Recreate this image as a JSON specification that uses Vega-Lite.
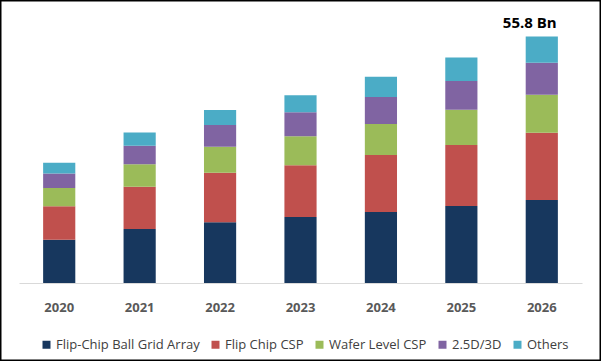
{
  "$schema": "https://vega.github.io/schema/vega-lite/v6.json",
  "width": 601,
  "height": 361,
  "autosize": "none",
  "padding": 0,
  "background": "white",
  "view": {"stroke": "black", "strokeWidth": 3, "fill": "white"},
  "datasets": {
    "market": [
      {"year": "2020", "segment": "Flip-Chip Ball Grid Array", "rank": 1, "value": 9.8},
      {"year": "2020", "segment": "Flip Chip CSP", "rank": 2, "value": 7.6},
      {"year": "2020", "segment": "Wafer Level CSP", "rank": 3, "value": 4.1},
      {"year": "2020", "segment": "2.5D/3D", "rank": 4, "value": 3.3},
      {"year": "2020", "segment": "Others", "rank": 5, "value": 2.4},
      {"year": "2021", "segment": "Flip-Chip Ball Grid Array", "rank": 1, "value": 12.2},
      {"year": "2021", "segment": "Flip Chip CSP", "rank": 2, "value": 9.6},
      {"year": "2021", "segment": "Wafer Level CSP", "rank": 3, "value": 5.1},
      {"year": "2021", "segment": "2.5D/3D", "rank": 4, "value": 4.2},
      {"year": "2021", "segment": "Others", "rank": 5, "value": 2.95},
      {"year": "2022", "segment": "Flip-Chip Ball Grid Array", "rank": 1, "value": 13.75},
      {"year": "2022", "segment": "Flip Chip CSP", "rank": 2, "value": 11.2},
      {"year": "2022", "segment": "Wafer Level CSP", "rank": 3, "value": 5.9},
      {"year": "2022", "segment": "2.5D/3D", "rank": 4, "value": 4.9},
      {"year": "2022", "segment": "Others", "rank": 5, "value": 3.4},
      {"year": "2023", "segment": "Flip-Chip Ball Grid Array", "rank": 1, "value": 14.95},
      {"year": "2023", "segment": "Flip Chip CSP", "rank": 2, "value": 11.7},
      {"year": "2023", "segment": "Wafer Level CSP", "rank": 3, "value": 6.6},
      {"year": "2023", "segment": "2.5D/3D", "rank": 4, "value": 5.4},
      {"year": "2023", "segment": "Others", "rank": 5, "value": 3.85},
      {"year": "2024", "segment": "Flip-Chip Ball Grid Array", "rank": 1, "value": 16.1},
      {"year": "2024", "segment": "Flip Chip CSP", "rank": 2, "value": 12.9},
      {"year": "2024", "segment": "Wafer Level CSP", "rank": 3, "value": 7.0},
      {"year": "2024", "segment": "2.5D/3D", "rank": 4, "value": 6.1},
      {"year": "2024", "segment": "Others", "rank": 5, "value": 4.6},
      {"year": "2025", "segment": "Flip-Chip Ball Grid Array", "rank": 1, "value": 17.45},
      {"year": "2025", "segment": "Flip Chip CSP", "rank": 2, "value": 13.8},
      {"year": "2025", "segment": "Wafer Level CSP", "rank": 3, "value": 8.0},
      {"year": "2025", "segment": "2.5D/3D", "rank": 4, "value": 6.5},
      {"year": "2025", "segment": "Others", "rank": 5, "value": 5.3},
      {"year": "2026", "segment": "Flip-Chip Ball Grid Array", "rank": 1, "value": 18.8},
      {"year": "2026", "segment": "Flip Chip CSP", "rank": 2, "value": 15.2},
      {"year": "2026", "segment": "Wafer Level CSP", "rank": 3, "value": 8.6},
      {"year": "2026", "segment": "2.5D/3D", "rank": 4, "value": 7.25},
      {"year": "2026", "segment": "Others", "rank": 5, "value": 5.95}
    ],
    "label": [
      {"year": "2026", "total": 55.8, "text": "55.8 Bn"}
    ]
  },
  "layer": [
    {
      "data": {"name": "market"},
      "mark": {"type": "bar"},
      "encoding": {
        "x": {
          "field": "year", "type": "nominal",
          "scale": {"range": [19, 582], "paddingInner": 0.6, "paddingOuter": 0.3},
          "axis": {
            "title": null, "orient": "bottom", "offset": -78, "labelAngle": 0,
            "ticks": false, "domainColor": "#d9d9d9", "domainWidth": 1,
            "labelFont": "Open Sans", "labelFontSize": 13, "labelFontWeight": "bold",
            "labelColor": "#595959", "labelPadding": 18, "grid": false
          }
        },
        "y": {
          "field": "value", "type": "quantitative", "aggregate": "sum",
          "stack": "zero",
          "scale": {"domain": [0, 60], "range": [283, 18], "nice": false},
          "axis": null
        },
        "color": {
          "field": "segment", "type": "nominal",
          "sort": ["Flip-Chip Ball Grid Array", "Flip Chip CSP", "Wafer Level CSP", "2.5D/3D", "Others"],
          "scale": {
            "domain": ["Flip-Chip Ball Grid Array", "Flip Chip CSP", "Wafer Level CSP", "2.5D/3D", "Others"],
            "range": ["#17375e", "#c0504d", "#9bbb59", "#8064a2", "#4bacc6"]
          },
          "legend": {
            "title": null, "orient": "none", "legendX": 40, "legendY": 338,
            "direction": "horizontal", "columns": 5,
            "symbolType": "square", "symbolSize": 64, "symbolStrokeWidth": 0,
            "labelFont": "Open Sans", "labelFontSize": 13, "labelColor": "#404040",
            "labelOffset": 3, "columnPadding": 9, "labelLimit": 300
          }
        },
        "order": {"field": "rank", "type": "quantitative", "sort": "ascending"}
      }
    },
    {
      "data": {"name": "label"},
      "mark": {"type": "text", "font": "Open Sans", "fontSize": 15, "fontWeight": "bold", "color": "black", "dx": -12, "dy": -9, "baseline": "alphabetic", "align": "center"},
      "encoding": {
        "x": {"field": "year", "type": "nominal"},
        "y": {"field": "total", "type": "quantitative"},
        "text": {"field": "text"}
      }
    }
  ]
}
